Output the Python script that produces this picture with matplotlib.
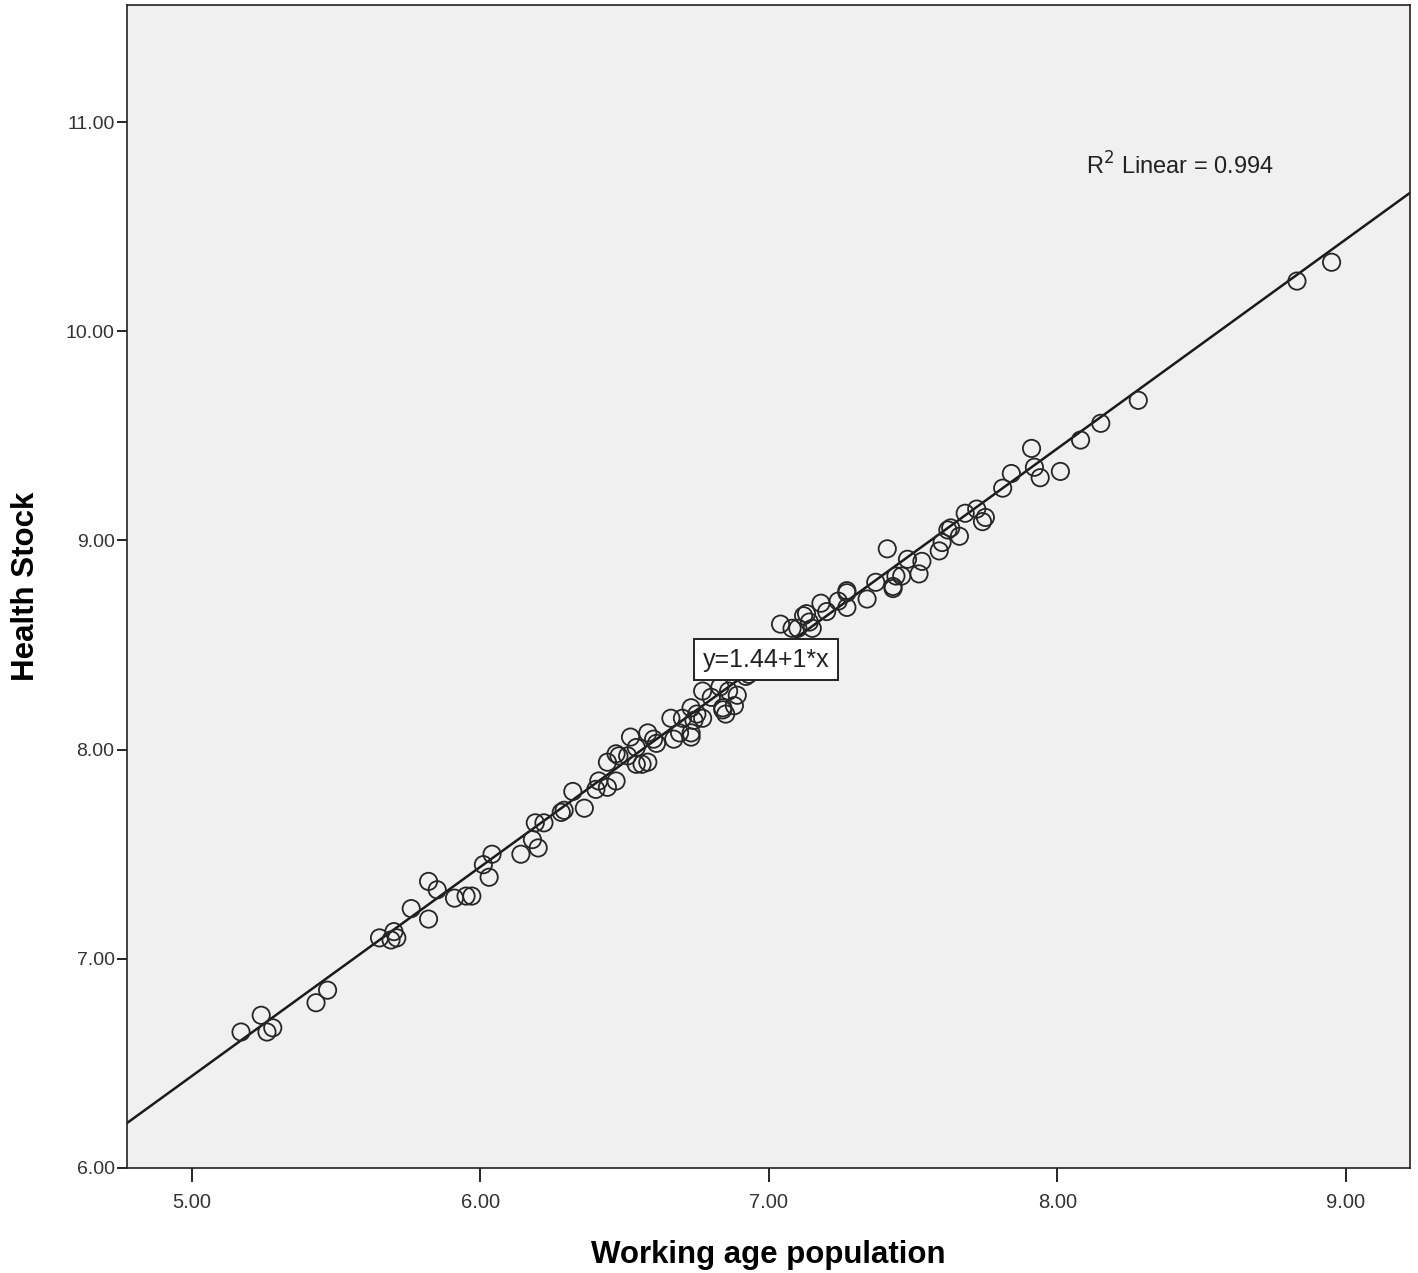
import matplotlib
matplotlib.use("Agg")
import matplotlib.pyplot as plt
import numpy as np

# values
work_age = [5.17, 5.24, 5.26, 5.28, 5.43, 5.47, 5.65, 5.69, 5.71, 5.70, 5.76, 5.82, 5.85, 5.82,
            5.91, 5.95, 5.97, 6.01, 6.03, 6.04, 6.14, 6.20,
            6.18, 6.19, 6.22, 6.28, 6.29, 6.32, 6.36, 6.40, 6.41, 6.44, 6.47, 6.44, 6.47, 6.51,
            6.54, 6.56, 6.58, 6.52, 6.58, 6.61, 6.66, 6.69, 6.73, 6.74, 6.77, 6.84, 6.88, 6.48, 6.54,
            6.77, 6.80, 6.83, 6.86, 6.89, 6.84, 6.85, 6.70, 6.73, 6.75, 6.73, 6.67, 6.60,
            6.92, 6.93, 6.95,
            7.04, 7.08, 7.13, 7.18, 7.27, 7.34, 7.43, 7.15, 7.10,
            7.41, 7.12, 7.20, 7.14, 7.24, 7.27, 7.27, 7.37, 7.43, 7.44, 7.48, 7.46, 7.53, 7.52,
            7.59, 7.60, 7.66, 7.63, 7.74,
            7.91, 7.92, 7.94, 8.01, 7.84, 7.81, 8.08, 8.15, 7.72, 7.75, 7.68, 7.62,
            8.28, 8.83, 8.95]
health = [6.65, 6.73, 6.65, 6.67, 6.79, 6.85, 7.10, 7.09, 7.10, 7.13, 7.24, 7.37, 7.33, 7.19,
          7.29, 7.30, 7.30, 7.45, 7.39, 7.50, 7.50, 7.53,
          7.57, 7.65, 7.65, 7.70, 7.71, 7.80, 7.72, 7.81, 7.85, 7.82, 7.85, 7.94, 7.98, 7.97,
          7.93, 7.93, 7.94, 8.06, 8.08, 8.03, 8.15, 8.08, 8.06, 8.14, 8.15, 8.19, 8.21, 7.97, 8.01,
          8.28, 8.25, 8.30, 8.28, 8.26, 8.20, 8.17, 8.15, 8.20, 8.17, 8.08, 8.05, 8.05,
          8.35, 8.36, 8.38,
          8.60, 8.58, 8.65, 8.70, 8.76, 8.72, 8.77, 8.58, 8.58,
          8.96, 8.64, 8.66, 8.61, 8.71, 8.75, 8.68, 8.80, 8.78, 8.83, 8.91, 8.83, 8.90, 8.84,
          8.95, 8.99, 9.02, 9.06, 9.09,
          9.44, 9.35, 9.30, 9.33, 9.32, 9.25, 9.48, 9.56, 9.15, 9.11, 9.13, 9.05,
          9.67, 10.24, 10.33]

intercept = 1.44
slope = 1.0
r2 = 0.994

xlim = (4.775, 9.222)
ylim = (6.0, 11.56)

fig = plt.figure(figsize=(14.18, 12.73), dpi=100)
ax = fig.add_axes([0.0896, 0.0825, 0.9048, 0.9136])
ax.set_facecolor('#f0f0f0')

ax.scatter(work_age, health, s=155, facecolors='none', edgecolors='#262626', linewidths=1.3, zorder=3)

xs = np.array(xlim)
ax.plot(xs, intercept + slope * xs, color='#1a1a1a', lw=1.8, zorder=2)

ax.set_xlim(xlim)
ax.set_ylim(ylim)
ax.set_xticks([5, 6, 7, 8, 9])
ax.set_xticklabels(['5.00', '6.00', '7.00', '8.00', '9.00'],
                   family='Liberation Sans', fontsize=14.5, color='#333333')
ax.set_yticks([6, 7, 8, 9, 10, 11])
ax.set_yticklabels(['6.00', '7.00', '8.00', '9.00', '10.00', '11.00'],
                   family='Liberation Sans', fontsize=14, color='#333333')
ax.tick_params(axis='x', direction='out', length=10, width=1.2, pad=8)
ax.tick_params(axis='y', direction='out', length=7, width=1.2, pad=2)
for s in ax.spines.values():
    s.set_linewidth(1.2)
    s.set_color('#222222')

ax.set_xlabel('Working age population', family='Liberation Sans',
              fontweight='bold', fontsize=22.5, labelpad=20)
ax.set_ylabel('Health Stock', family='Liberation Sans',
              fontweight='bold', fontsize=22.5, labelpad=18)

ax.text(8.10, 10.79, r'R$^{2}$ Linear = ' + f'{r2:.3f}', family='Liberation Sans', fontsize=17,
        color='#222222', ha='left', va='center')
ax.text(6.99, 8.43, f'y={intercept:.2f}+{slope:.0f}*x', family='Liberation Sans', fontsize=18,
        color='#222222', ha='center', va='center', zorder=4,
        bbox=dict(boxstyle='square,pad=0.35', fc='white', ec='#222222', lw=1.4))

fig.savefig('out.png', dpi=100)
